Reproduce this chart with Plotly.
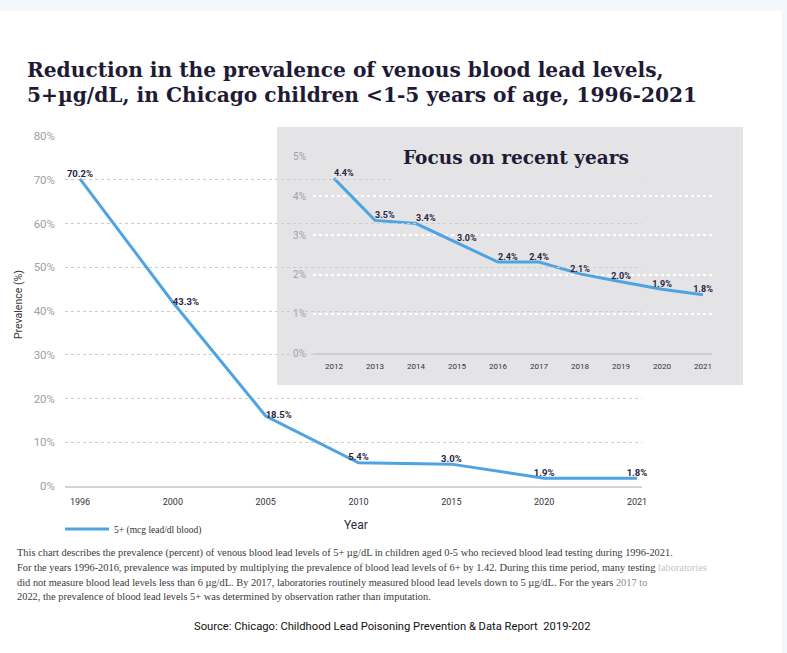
import plotly.graph_objects as go

# ---------------- data ----------------
years_main = ["1996", "2000", "2005", "2010", "2015", "2020", "2021"]
prev_main = [70.2, 42.0, 16.0, 5.3, 5.0, 1.8, 1.8]
labels_main = ["70.2%", "43.3%", "18.5%", "5.4%", "3.0%", "1.9%", "1.8%"]

years_inset = ["2012", "2013", "2014", "2015", "2016", "2017", "2018", "2019", "2020", "2021"]
prev_inset = [4.45, 3.38, 3.30, 2.80, 2.32, 2.32, 2.02, 1.82, 1.63, 1.49]
labels_inset = ["4.4%", "3.5%", "3.4%", "3.0%", "2.4%", "2.4%", "2.1%", "2.0%", "1.9%", "1.8%"]

series_name = "5+ (mcg lead/dl blood)"

# ---------------- styling ----------------
W, H = 787, 653
BLUE = "#4ea3e2"
DARK = "#2a2540"
TITLE = "#1f1b35"
NARROW = "Roboto, Liberation Sans, sans-serif"
SERIF = "Liberation Serif, DejaVu Serif, serif"
TSERIF = "DejaVu Serif, serif"
INSET_BG = "#e4e4e6"


def px(x):
    return x / W


def py(y):
    return 1 - y / H


fig = go.Figure()

# main chart (x2/y2 so that it is drawn beneath the inset subplot)
fig.add_trace(go.Scatter(
    x=years_main, y=prev_main, mode="lines+text", name=series_name,
    text=labels_main,
    textposition=["top center", "middle right", "middle right", "top center",
                  "top center", "top center", "top center"],
    textfont=dict(family=NARROW, size=9.5, color=DARK, weight="bold"),
    line=dict(color=BLUE, width=3),
    xaxis="x2", yaxis="y2", cliponaxis=False, showlegend=True,
))

# inset chart
fig.add_trace(go.Scatter(
    x=years_inset, y=prev_inset, mode="lines+text", name=series_name,
    text=labels_inset,
    textposition=["top right", "top right", "top right", "top right", "top right",
                  "top center", "top center", "top center", "top center", "top center"],
    textfont=dict(family=NARROW, size=9, color=DARK, weight="bold"),
    line=dict(color=BLUE, width=3),
    xaxis="x", yaxis="y", cliponaxis=False, showlegend=False,
))

# main axes: x 65..642 px, y 0%->486 px, 80%->136 px
main_step = (637 - 80) / 6
fig.update_layout(
    xaxis2=dict(
        type="category", domain=[px(65), px(642)], anchor="y2", automargin=False,
        range=[-(80 - 65) / main_step, 6 + (642 - 637) / main_step],
        showgrid=False, zeroline=False, showline=True, linecolor="#d4d4d4", linewidth=2,
        ticks="", ticklabelstandoff=6,
        tickfont=dict(family=NARROW, size=9, color="#33333d"),
        fixedrange=True,
    ),
    yaxis2=dict(
        domain=[py(486), py(136)], anchor="x2", automargin=False,
        range=[0, 80], dtick=10, ticksuffix="%",
        showgrid=True, gridcolor="#cccccc", gridwidth=1, griddash="dot",
        zeroline=False, showline=False, ticks="", ticklabelstandoff=9,
        tickfont=dict(family=NARROW, size=11.5, color="#a0a0a0"),
        fixedrange=True,
    ),
)

# inset axes: x 313..712 px, y 0%->353.3 px, 5%->156.7 px
inset_step = 41.0
fig.update_layout(
    xaxis=dict(
        type="category", domain=[px(313), px(712)], anchor="y", automargin=False,
        range=[-(334 - 313) / inset_step, 9 + (712 - 703) / inset_step],
        showgrid=False, zeroline=False, showline=True, linecolor="#cfcfd3", linewidth=1.5,
        ticks="", ticklabelstandoff=4,
        tickfont=dict(family=NARROW, size=8, color="#33333d"),
        fixedrange=True,
    ),
    yaxis=dict(
        domain=[py(353.3), py(156.7)], anchor="x", automargin=False,
        range=[0, 5], dtick=1, ticksuffix="%",
        showgrid=True, gridcolor="#ffffff", gridwidth=1.5, griddash="dot",
        zeroline=False, showline=False, ticks="", ticklabelstandoff=6,
        tickfont=dict(family=NARROW, size=10, color="#a0a0a6"),
        fixedrange=True,
    ),
)

dom_w = 712 - 313
dom_h = 353.3 - 156.7
shapes = [
    dict(type="rect", xref="paper", yref="paper", x0=0, x1=px(782), y0=0, y1=py(11),
         fillcolor="#ffffff", line=dict(width=0), layer="below"),
    dict(type="rect", xref="x domain", yref="y domain",
         x0=(277 - 313) / dom_w, x1=(743 - 313) / dom_w,
         y0=(353.3 - 385) / dom_h, y1=(353.3 - 127) / dom_h,
         fillcolor=INSET_BG, line=dict(width=0), layer="below"),
]

annotations = [
    dict(text="Reduction in the prevalence of venous blood lead levels,",
         x=px(26), y=py(70), xanchor="left", yanchor="middle", borderpad=0,
         font=dict(family=TSERIF, size=20.2, color=TITLE, weight="bold")),
    dict(text="5+µg/dL, in Chicago children <1-5 years of age, 1996-2021",
         x=px(26), y=py(95), xanchor="left", yanchor="middle", borderpad=0,
         font=dict(family=TSERIF, size=20.2, color=TITLE, weight="bold")),
    dict(text="Focus on recent years", x=px(516), y=py(157), xanchor="center", yanchor="middle",
         font=dict(family=TSERIF, size=18.5, color=TITLE, weight="bold"),
         bgcolor=INSET_BG, borderpad=12),
    dict(text="Prevalence (%)", x=px(18), y=py(305), textangle=-90,
         xanchor="center", yanchor="middle",
         font=dict(family=NARROW, size=10.5, color="#3a3a3a")),
    dict(text="Year", x=px(356), y=py(525), xanchor="center", yanchor="middle",
         font=dict(family=NARROW, size=12, color="#2a2a33")),
    dict(text="This chart describes the prevalence (percent) of venous blood lead levels of 5+ µg/dL in children aged 0-5 who recieved blood lead testing during 1996-2021.",
         x=px(15), y=py(553), xanchor="left", yanchor="middle",
         font=dict(family=SERIF, size=10.4, color="#3a3a3a")),
    dict(text="For the years 1996-2016, prevalence was imputed by multiplying the prevalence of blood lead levels of 6+ by 1.42. During this time period, many testing <span style='color:#c4c4cc'>laboratories</span>",
         x=px(15), y=py(567), xanchor="left", yanchor="middle",
         font=dict(family=SERIF, size=10.4, color="#3a3a3a")),
    dict(text="did not measure blood lead levels less than 6 µg/dL. By 2017, laboratories routinely measured blood lead levels down to 5 µg/dL. For the years <span style='color:#8a8a96'>2017 to</span>",
         x=px(15), y=py(582), xanchor="left", yanchor="middle",
         font=dict(family=SERIF, size=10.4, color="#3a3a3a")),
    dict(text="2022, the prevalence of blood lead levels 5+ was determined by observation rather than imputation.",
         x=px(15), y=py(596), xanchor="left", yanchor="middle",
         font=dict(family=SERIF, size=10.4, color="#3a3a3a")),
    dict(text="Source: Chicago: Childhood Lead Poisoning Prevention & Data Report  2019-202",
         x=px(392), y=py(626), xanchor="center", yanchor="middle",
         font=dict(family=NARROW, size=11.2, color="#111111")),
]
for a in annotations:
    a.update(xref="paper", yref="paper", showarrow=False)

fig.update_layout(
    width=W, height=H, autosize=False,
    margin=dict(l=0, r=0, t=0, b=0, pad=0, autoexpand=False),
    paper_bgcolor="#f3f8fd", plot_bgcolor="rgba(0,0,0,0)",
    shapes=shapes, annotations=annotations,
    showlegend=True,
    legend=dict(x=px(60), y=py(529), xanchor="left", yanchor="middle",
                bgcolor="rgba(0,0,0,0)", borderwidth=0, itemwidth=44,
                font=dict(family=SERIF, size=9.5, color="#333333")),
    hovermode=False,
)

fig.write_html("out.html", config={"displayModeBar": False},
               post_script="document.body.style.margin='0';document.body.style.overflow='hidden';")
